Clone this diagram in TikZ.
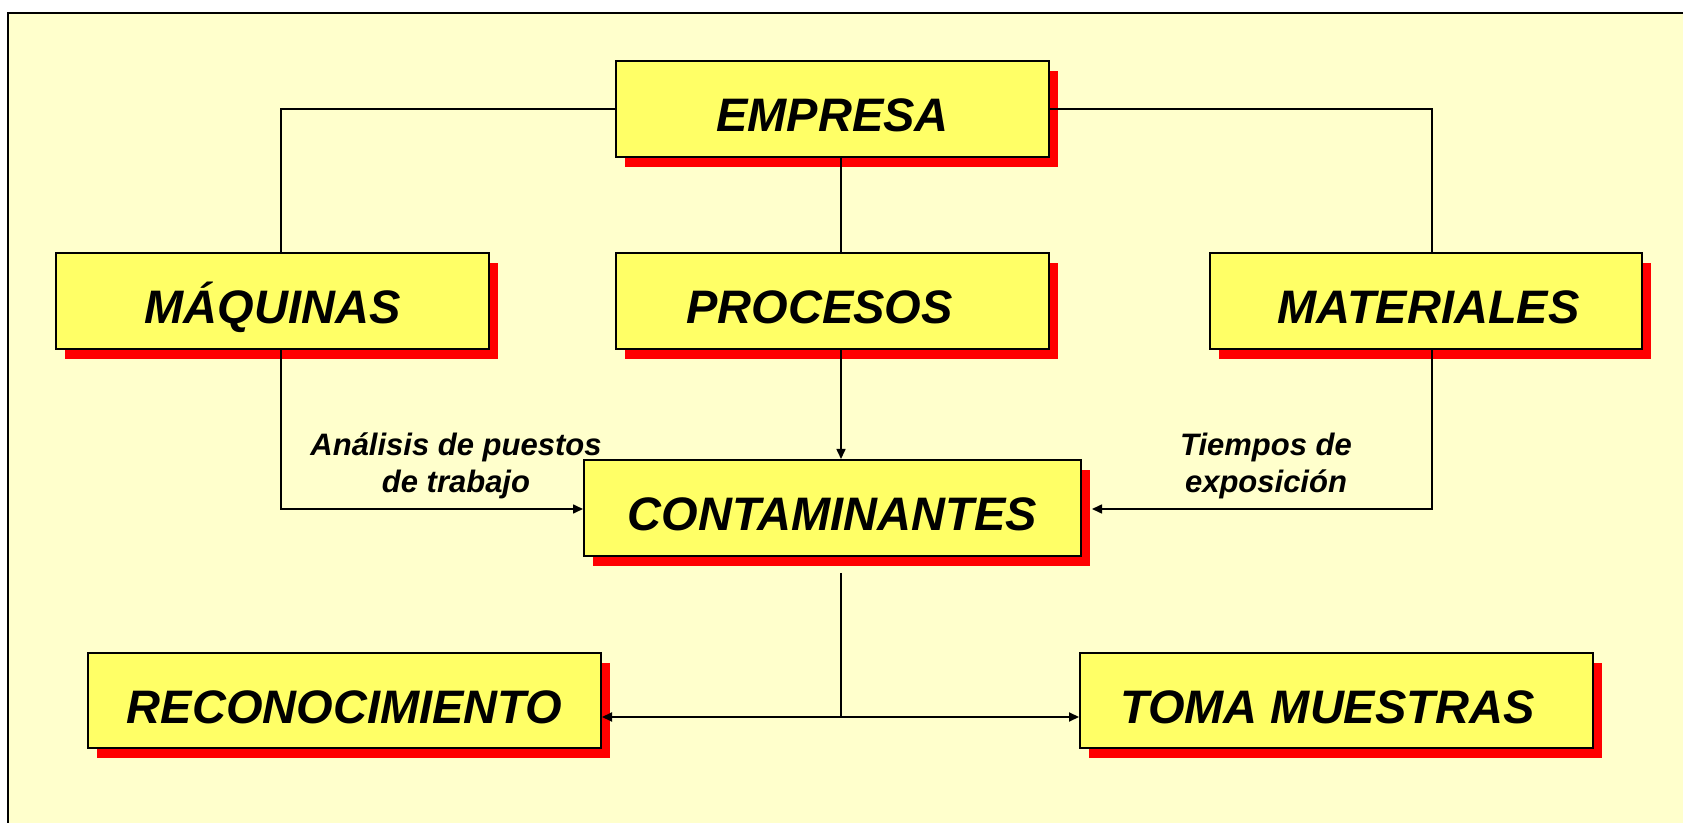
\documentclass[tikz,border=0pt]{standalone}
\usepackage{fontspec}
\setmainfont{Liberation Sans}
\usetikzlibrary{arrows.meta,shadows,calc}
\definecolor{bg}{HTML}{FFFFCC}
\definecolor{boxfill}{HTML}{FFFF66}
\begin{document}
\begin{tikzpicture}[x=0.5pt,y=-0.5pt,
  box/.style={draw=black, line width=1pt, fill=boxfill, minimum height=48pt, inner sep=0pt,
    font=\fontsize{23.5}{28}\selectfont\bfseries\itshape, text height=22.8pt, text depth=0pt,
    drop shadow={shadow xshift=4.5pt, shadow yshift=-5pt, fill=red, opacity=1}},
  conn/.style={line width=0.8pt},
  arr/.style={conn, -{Triangle[length=5pt,width=4.5pt]}},
  lbl/.style={font=\fontsize{15.5}{18.5}\selectfont\bfseries\itshape, align=center, inner sep=0pt}]
\useasboundingbox (0,0) rectangle (1683,823);
\clip (0,0) rectangle (1683,823);
\fill[white] (0,0) rectangle (1683,823);
\draw[line width=1pt, fill=bg] (8,13) rectangle (1720,860);

\node[box, minimum width=216.5pt] (emp) at (832.5,109) {EMPRESA};
\node[box, minimum width=216.5pt] (maq) at (272.5,301) {MÁQUINAS};
\node[box, minimum width=216.5pt] (pro) at (832.5,301) {\hspace*{-13pt}PROCESOS};
\node[box, minimum width=216pt] (mat) at (1425.5,301) {\hspace*{3pt}MATERIALES};
\node[box, minimum width=248.5pt] (con) at (832.5,508) {CONTAMINANTES};
\node[box, minimum width=256.5pt, minimum height=47.5pt] (rec) at (344.5,700.5) {RECONOCIMIENTO};
\node[box, minimum width=256.5pt, minimum height=47.5pt] (tom) at (1336.5,700.5) {\hspace*{-9pt}TOMA MUESTRAS};

\node[lbl, anchor=base] (l1) at (456,493) {Análisis de puestos\\de trabajo};
\node[lbl, anchor=base] (l2) at (1266,493) {Tiempos de\\exposición};

\draw[conn] (emp.west) -| ([xshift=4.25pt]maq.north);
\draw[conn] (emp.east) -| ([xshift=3.25pt]mat.north);
\draw[conn] ([xshift=4.25pt]emp.south) -- ([xshift=4.25pt]pro.north);
\draw[arr] ([xshift=4.25pt]pro.south) -- ([xshift=4.25pt]con.north);
\draw[arr] ([xshift=4.25pt]maq.south) |- ([yshift=-0.5pt]con.west);
\draw[arr] ([xshift=3.25pt]mat.south) |- ([xshift=5pt,yshift=-0.5pt]con.east);
\coordinate (j) at (841,717);
\draw[conn] ([xshift=4.25pt,yshift=-8pt]con.south) -- (j);
\draw[arr, line width=1pt] (j) -- (j -| rec.east);
\draw[arr, line width=1pt] (j) -- (j -| tom.west);
\end{tikzpicture}
\end{document}
